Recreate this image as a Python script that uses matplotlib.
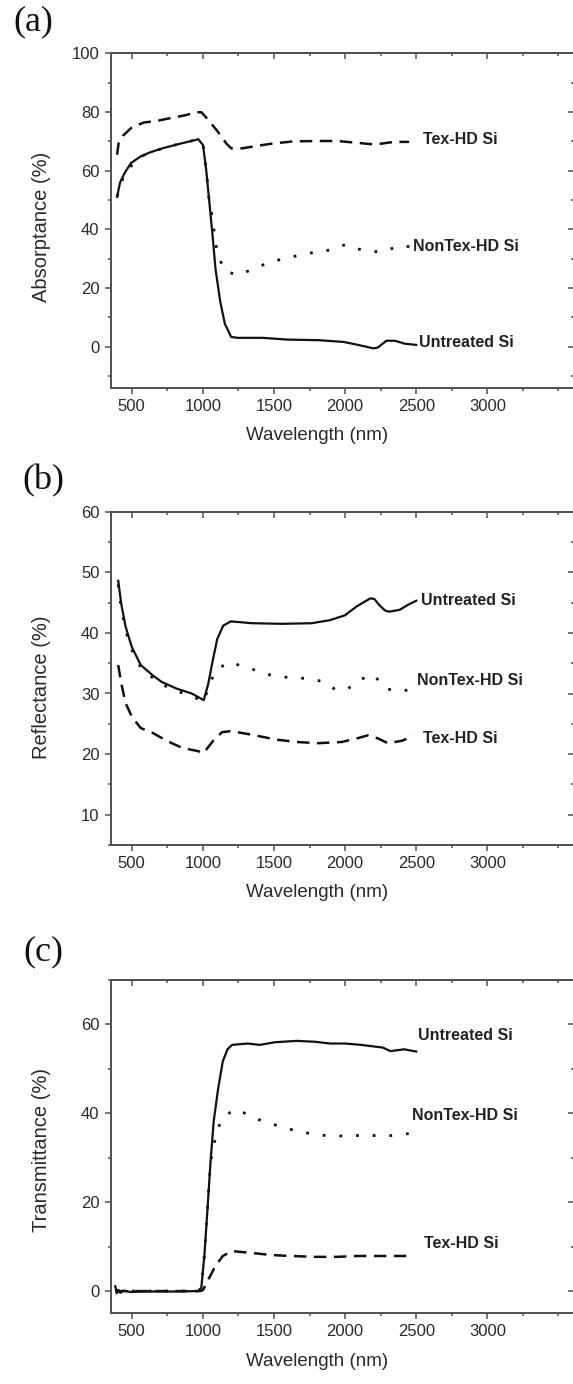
import numpy as np
import matplotlib.pyplot as plt
from matplotlib.ticker import MultipleLocator, FixedLocator

plt.rcParams['font.family'] = ['Liberation Sans', 'DejaVu Sans']

# ── (a) Absorptance ──────────────────────────────────────────────────────────
a_unt_wl = [397, 418, 451, 495, 561, 627, 715, 825, 935, 968, 1001, 1023, 1045, 1067,
            1089, 1122, 1155, 1199, 1243, 1420, 1595, 1815, 1990, 2100, 2145, 2200,
            2230, 2290, 2350, 2420, 2500]
a_unt = [51.1, 56.0, 59.3, 62.6, 64.8, 66.2, 67.6, 69.0, 70.3, 70.7, 68.7, 60.4, 49.5, 38.5,
         26.4, 15.4, 7.7, 3.3, 3.0, 3.0, 2.4, 2.2, 1.6, 0.5, 0.0, -0.6,
         -0.3, 2.0, 2.0, 1.0, 0.6]
a_tex_wl = [397, 407, 440, 495, 583, 671, 781, 869, 957, 990, 1034, 1100, 1166, 1199,
            1276, 1375, 1485, 1639, 1815, 1947, 2079, 2211, 2343, 2450]
a_tex = [65.4, 69.2, 72.0, 74.5, 76.4, 76.9, 78.0, 78.8, 79.9, 79.9, 77.5, 73.6, 69.2, 67.6,
         67.6, 68.4, 69.2, 70.0, 70.1, 70.1, 69.5, 68.9, 69.8, 69.8]
a_non_wl = [397, 451, 561, 715, 825, 935, 968, 1001, 1023, 1045, 1067, 1078, 1089, 1111,
            1155, 1243, 1342, 1430, 1529, 1617, 1716, 1815, 1903, 2002, 2090, 2189,
            2277, 2376, 2453, 2500]
a_non = [51.1, 59.3, 64.8, 67.6, 69.0, 70.3, 70.7, 68.7, 60.4, 49.5, 44.0, 39.6, 35.2, 30.5,
         25.8, 24.4, 26.2, 28.0, 29.5, 30.5, 31.6, 32.4, 33.0, 34.8, 33.3, 32.4,
         32.4, 34.4, 34.1, 34.5]

# ── (b) Reflectance ──────────────────────────────────────────────────────────
b_unt_wl = [405, 426, 457, 500, 563, 647, 711, 816, 922, 1006, 1038, 1069, 1101, 1143,
            1196, 1344, 1555, 1766, 1893, 1998, 2083, 2177, 2205, 2240, 2280, 2310,
            2383, 2447, 2500]
b_unt = [48.6, 44.8, 41.0, 37.7, 34.7, 33.0, 31.9, 30.8, 30.0, 28.9, 31.6, 35.4, 39.0, 41.2,
         41.9, 41.6, 41.5, 41.6, 42.1, 42.9, 44.4, 45.7, 45.6, 44.6, 43.7, 43.5,
         43.8, 44.7, 45.3]
b_non_wl = [405, 426, 457, 500, 563, 647, 711, 816, 922, 1006, 1048, 1101, 1196, 1283,
            1379, 1480, 1570, 1665, 1750, 1840, 1935, 2020, 2115, 2200, 2285, 2370,
            2460, 2500]
b_non = [48.0, 44.2, 40.4, 37.2, 34.3, 32.6, 31.5, 30.4, 29.6, 28.6, 31.7, 34.1, 35.2, 34.4,
         33.8, 33.0, 32.7, 32.6, 32.4, 32.0, 30.6, 30.8, 32.4, 33.1, 30.8, 30.4,
         30.6, 31.0]
b_tex_wl = [405, 426, 457, 500, 563, 647, 753, 858, 964, 1006, 1069, 1133, 1196, 1344,
            1513, 1660, 1808, 1977, 2100, 2160, 2230, 2300, 2400, 2480]
b_tex = [34.7, 31.7, 28.4, 26.2, 24.3, 23.5, 22.1, 21.0, 20.5, 20.2, 22.1, 23.6, 23.8, 23.2,
         22.4, 22.0, 21.8, 22.0, 22.7, 23.1, 22.6, 21.8, 22.2, 23.0]

# ── (c) Transmittance ────────────────────────────────────────────────────────
c_unt_wl = [384, 395, 406, 420, 440, 492, 600, 800, 968, 989, 1011, 1033, 1054, 1076,
            1108, 1140, 1173, 1205, 1313, 1400, 1508, 1659, 1788, 1896, 2004, 2112,
            2264, 2318, 2415, 2500]
c_unt = [1.1, -0.5, 0.3, -0.4, 0.1, -0.2, -0.1, -0.1, 0.0, 0.75, 8.2, 18.7, 29.2, 38.2,
         45.7, 51.7, 54.4, 55.4, 55.7, 55.4, 56.0, 56.3, 56.1, 55.7, 55.7, 55.4,
         54.8, 54.0, 54.4, 53.9]
c_non_wl = [384, 500, 968, 989, 1011, 1033, 1054, 1076, 1097, 1140, 1222, 1313, 1400,
            1497, 1590, 1680, 1777, 1864, 1961, 2048, 2140, 2231, 2328, 2404, 2500]
c_non = [0.0, 0.0, 0.0, 0.75, 8.2, 18.7, 29.2, 32.5, 36.0, 39.0, 40.9, 39.8, 38.5,
         37.5, 36.6, 35.9, 35.3, 35.0, 34.9, 35.0, 35.0, 35.0, 35.0, 35.3, 35.6]
c_tex_wl = [384, 600, 980, 1000, 1033, 1087, 1140, 1205, 1335, 1486, 1616, 1788, 1940,
            2091, 2242, 2430]
c_tex = [0.0, 0.0, 0.0, 0.2, 2.25, 5.6, 7.9, 9.0, 8.6, 8.1, 7.9, 7.7, 7.7,
         7.9, 7.9, 7.9]

x_ticks = [500, 1000, 1500, 2000, 2500, 3000]
labels = ["Untreated Si", "NonTex-HD Si", "Tex-HD Si"]

# ── figure ───────────────────────────────────────────────────────────────────
W, H = 573, 1384
fig = plt.figure(figsize=(W / 100, H / 100), dpi=100, facecolor="white")

INK   = "#111111"
SPINE = "#505050"
TXT   = "#2a2a2a"

def px_axes(top, bottom, left=110.7, right=574):
    return fig.add_axes([left / W, 1 - bottom / H, (right - left) / W, (bottom - top) / H])

def style_ax(ax, ylim, ymajor, yminor, ylabel, ylab_y):
    ax.set_xlim(352, 3609)
    ax.set_ylim(*ylim)
    ax.xaxis.set_major_locator(FixedLocator(x_ticks))
    ax.xaxis.set_minor_locator(MultipleLocator(250))
    ax.yaxis.set_major_locator(MultipleLocator(ymajor))
    ax.yaxis.set_minor_locator(MultipleLocator(yminor))
    for s in ax.spines.values():
        s.set_color(SPINE)
        s.set_linewidth(1.4)
    ax.tick_params(which="both", direction="out", colors=SPINE, labelcolor=TXT,
                   labelsize=12, width=1.1, pad=4)
    ax.tick_params(which="major", length=4)
    ax.tick_params(which="minor", length=2.5)
    # mirrored ticks on top/right pointing inward
    top = ax.secondary_xaxis("top")
    right = ax.secondary_yaxis("right")
    top.xaxis.set_major_locator(FixedLocator(x_ticks))
    top.xaxis.set_minor_locator(MultipleLocator(250))
    right.yaxis.set_major_locator(MultipleLocator(ymajor))
    right.yaxis.set_minor_locator(MultipleLocator(yminor))
    for sec in (top, right):
        sec.tick_params(which="both", direction="in", colors=SPINE, labelleft=False,
                        labelright=False, labeltop=False, labelbottom=False, width=1.1)
        sec.tick_params(which="major", length=4)
        sec.tick_params(which="minor", length=2.5)
        for s in sec.spines.values():
            s.set_color(SPINE)
            s.set_linewidth(1.4)
    ax.set_xlabel("Wavelength (nm)", fontsize=13.5, color=TXT)
    ax.xaxis.set_label_coords(0.445, -0.118)
    ax.set_ylabel(ylabel, fontsize=14.5, color=TXT)
    ax.yaxis.set_label_coords(-0.128, ylab_y)

def draw(ax, unt_wl, unt, non_wl, non, tex_wl, tex):
    ax.plot(tex_wl, tex, color=INK, lw=1.8, linestyle=(0, (5, 3)))
    ax.plot(non_wl, non, color=INK, lw=2.0, linestyle=(0, (1, 5)))
    ax.plot(unt_wl, unt, color=INK, lw=1.6)

def tag(ax, x, y, s):
    ax.text(x, y, s, fontsize=11.5, fontweight="bold", color="#222222",
            ha="left", va="center")

# (a)
ax_a = px_axes(53.3, 387.7)
draw(ax_a, a_unt_wl, a_unt, a_non_wl, a_non, a_tex_wl, a_tex)
style_ax(ax_a, (-14, 100), 20, 10, "Absorptance (%)", 0.48)
tag(ax_a, 2550, 70.5, labels[2])
tag(ax_a, 2478, 34.0, labels[1])
tag(ax_a, 2520, 1.3, labels[0])

# (b)
ax_b = px_axes(511.7, 845)
draw(ax_b, b_unt_wl, b_unt, b_non_wl, b_non, b_tex_wl, b_tex)
style_ax(ax_b, (5, 60), 10, 5, "Reflectance (%)", 0.474)
tag(ax_b, 2534, 45.3, labels[0])
tag(ax_b, 2506, 32.2, labels[1])
tag(ax_b, 2548, 22.6, labels[2])

# (c)
ax_c = px_axes(980, 1313.3)
draw(ax_c, c_unt_wl, c_unt, c_non_wl, c_non, c_tex_wl, c_tex)
style_ax(ax_c, (-5, 70), 20, 10, "Transmittance (%)", 0.49)
tag(ax_c, 2513, 57.4, labels[0])
tag(ax_c, 2471, 39.4, labels[1])
tag(ax_c, 2555, 10.8, labels[2])

# panel letters
for letter, xp, yp in [("(a)", 13, 22), ("(b)", 22, 481), ("(c)", 23, 952)]:
    fig.text(xp / W, 1 - yp / H, letter, family=["Liberation Serif", "DejaVu Serif"],
             fontsize=26, ha="left", va="center", color="#111111")

fig.savefig("out.png", dpi=100, facecolor="white")
